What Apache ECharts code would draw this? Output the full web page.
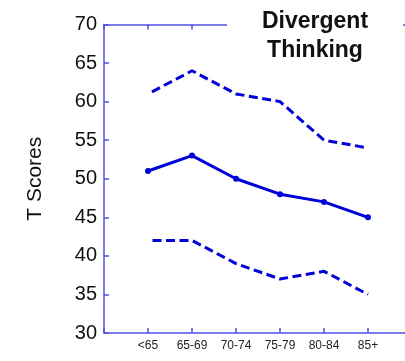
<!DOCTYPE html>
<html>
<head>
<meta charset="utf-8">
<script src="https://cdn.jsdelivr.net/npm/echarts@6/dist/echarts.min.js"></script>
<style>
  html, body { margin: 0; padding: 0; background: #fff; }
  #chart { width: 405px; height: 361px; }
</style>
</head>
<body>
<div id="chart"></div>
<script>
// Age bands on the horizontal axis
const ageGroups = ['<65', '65-69', '70-74', '75-79', '80-84', '85+'];
// Mean T score per age band
const meanScores = [51, 53, 50, 48, 47, 45];
// Upper and lower bounds (dashed)
const upperBound = [61, 64, 61, 60, 55, 54];
const lowerBound = [42, 42, 39, 37, 38, 35];
// Vertical axis ticks
const yMin = 30, yMax = 70, yStep = 5;

const FONT = '"Liberation Sans", Arial, sans-serif';
const LINE_COLOR = '#0000d8';
const AXIS_COLOR = '#5050e6';

// Place each age band at positions 1..6 on a 0..7 scale
const toPoints = arr => arr.map((v, i) => [i + 1, v]);

const chart = echarts.init(document.getElementById('chart'), null, { renderer: 'canvas' });

const xAxisBase = {
  type: 'value',
  min: 0,
  max: ageGroups.length + 1,
  interval: 1,
  axisLine: { show: true, lineStyle: { color: AXIS_COLOR, width: 1.5 } },
  axisTick: { show: true, inside: true, length: 5, lineStyle: { color: AXIS_COLOR, width: 1.5 } },
  splitLine: { show: false }
};

chart.setOption({
  animation: false,
  backgroundColor: '#ffffff',
  title: {
    text: 'Divergent\nThinking',
    left: 280,
    top: 1,
    textAlign: 'center',
    padding: [6, 35, 6, 35],
    backgroundColor: '#ffffff',
    textStyle: {
      fontFamily: FONT,
      fontSize: 23,
      fontWeight: 'bold',
      color: '#111111',
      lineHeight: 29
    }
  },
  grid: { left: 104, top: 24.5, width: 308, height: 308.5, outerBoundsMode: 'none', containLabel: false },
  xAxis: [
    Object.assign({}, xAxisBase, {
      position: 'bottom',
      axisLabel: {
        show: true,
        margin: 7,
        fontFamily: FONT,
        fontSize: 12,
        color: '#222222',
        formatter: v => ageGroups[v - 1] || ''
      }
    }),
    Object.assign({}, xAxisBase, {
      position: 'top',
      axisLabel: { show: false }
    })
  ],
  yAxis: {
    type: 'value',
    min: yMin,
    max: yMax,
    interval: yStep,
    name: 'T Scores',
    nameLocation: 'middle',
    nameGap: 58,
    nameTextStyle: { fontFamily: FONT, fontSize: 21, color: '#111111' },
    axisLine: { show: true, lineStyle: { color: AXIS_COLOR, width: 1.5 } },
    axisTick: { show: true, inside: true, length: 5, lineStyle: { color: AXIS_COLOR, width: 1.5 } },
    splitLine: { show: false },
    axisLabel: {
      margin: 7,
      fontFamily: FONT,
      fontSize: 20,
      color: '#111111',
      padding: [0, 0, 6, 0]
    }
  },
  series: [
    {
      name: 'Mean',
      type: 'line',
      xAxisIndex: 0,
      data: toPoints(meanScores),
      symbol: 'circle',
      symbolSize: 6,
      itemStyle: { color: LINE_COLOR },
      lineStyle: { color: LINE_COLOR, width: 3 }
    },
    {
      name: 'Upper',
      type: 'line',
      xAxisIndex: 0,
      data: toPoints(upperBound),
      symbol: 'none',
      lineStyle: { color: LINE_COLOR, width: 3, type: [9, 4.5], dashOffset: 9 }
    },
    {
      name: 'Lower',
      type: 'line',
      xAxisIndex: 0,
      data: toPoints(lowerBound),
      symbol: 'none',
      lineStyle: { color: LINE_COLOR, width: 3, type: [9, 4.5], dashOffset: 9 }
    }
  ]
});
</script>
</body>
</html>
